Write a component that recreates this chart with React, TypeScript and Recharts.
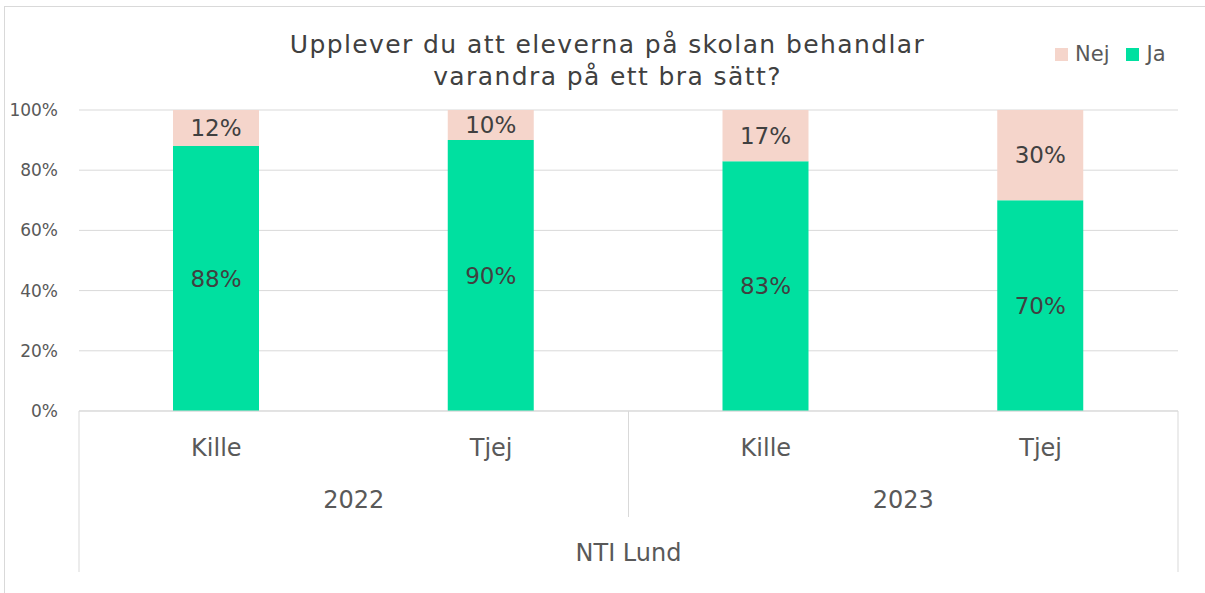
import { BarChart, Bar, XAxis, YAxis, CartesianGrid, LabelList } from "recharts";

const genders = ["Kille", "Tjej", "Kille", "Tjej"];
const years = ["2022", "2022", "2023", "2023"];
const ja = [88, 90, 83, 70];
const nej = [12, 10, 17, 30];
const yTicks = [0, 20, 40, 60, 80, 100];
const groupLabel = "NTI Lund";
const title = ["Upplever du att eleverna på skolan behandlar", "varandra på ett bra sätt?"];

const data = genders.map((g, i) => ({ gender: g, year: years[i], Ja: ja[i], Nej: nej[i] }));

const W = 1205;
const H = 593;
const M = { top: 110, right: 27, left: 0, bottom: 0 };
const Y_W = 79;
const X_H = 182;
const band = (W - M.left - M.right - Y_W) / data.length;
const FONT = "'DejaVu Sans', sans-serif";
const LINE = "#d9d9d9";
const TEXT = "#595959";
const GREEN = "#00e0a0";
const PINK = "#f5d5cb";

function CatTick(props: any) {
  const { x, y, index, payload } = props;
  const left = x - band / 2;
  const right = x + band / 2;
  return (
    <g>
      <text x={x} y={y + 45} textAnchor="middle" fill={TEXT} fontSize={24} fontFamily={FONT}>
        {payload.value}
      </text>
      {index % 2 === 0 && (
        <text x={right} y={y + 97} textAnchor="middle" fill={TEXT} fontSize={24} fontFamily={FONT}>
          {years[index]}
        </text>
      )}
      {index === 0 && (
        <>
          <line x1={left} y1={y} x2={left} y2={y + 161} stroke={LINE} />
          <text x={left + band * 2} y={y + 150} textAnchor="middle" fill={TEXT} fontSize={24} fontFamily={FONT}>
            {groupLabel}
          </text>
        </>
      )}
      {index === 2 && <line x1={left} y1={y} x2={left} y2={y + 106} stroke={LINE} />}
      {index === data.length - 1 && <line x1={right} y1={y} x2={right} y2={y + 161} stroke={LINE} />}
    </g>
  );
}

function LegendBox() {
  const items = [
    { name: "Nej", color: PINK },
    { name: "Ja", color: GREEN },
  ];
  return (
    <div
      style={{
        position: "absolute",
        left: 1055,
        top: 42,
        display: "flex",
        gap: 17,
        fontFamily: FONT,
        fontSize: 21,
        color: TEXT,
      }}
    >
      {items.map((it) => (
        <div key={it.name} style={{ display: "flex", alignItems: "center", gap: 7 }}>
          <span style={{ width: 13, height: 13, background: it.color, display: "inline-block" }} />
          {it.name}
        </div>
      ))}
    </div>
  );
}

export default function App() {
  return (
    <div style={{ position: "absolute", left: 0, top: 0, width: W, height: H, background: "#fff", overflow: "hidden" }}>
      <div
        style={{
          position: "absolute",
          left: 4,
          top: 6,
          width: W,
          height: H,
          borderLeft: "1.5px solid #d9d9d9",
          borderTop: "1.5px solid #d9d9d9",
        }}
      />
      <div
        style={{
          position: "absolute",
          left: 0,
          top: 29,
          width: 1215,
          textAlign: "center",
          fontFamily: FONT,
          fontSize: 25,
          letterSpacing: 1.4,
          lineHeight: "32px",
          color: "#404040",
        }}
      >
        {title[0]}
        <br />
        {title[1]}
      </div>
      <LegendBox />
      <BarChart width={W} height={H} data={data} margin={M} style={{ position: "absolute", left: 0, top: 0 }}>
        <CartesianGrid vertical={false} stroke={LINE} />
        <YAxis
          width={Y_W}
          domain={[0, 100]}
          ticks={yTicks}
          tickFormatter={(v: number) => `${v}%`}
          axisLine={false}
          tickLine={false}
          tickSize={0}
          tickMargin={21}
          tick={{ fill: TEXT, fontSize: 17, fontFamily: FONT }}
        />
        <XAxis
          dataKey="gender"
          height={X_H}
          interval={0}
          axisLine={{ stroke: LINE }}
          tickLine={false}
          tickSize={0}
          tickMargin={0}
          tick={<CatTick />}
        />
        <Bar dataKey="Ja" stackId="a" fill={GREEN} barSize={86} isAnimationActive={false}>
          <LabelList dataKey="Ja" position="center" formatter={(v: any) => `${v}%`} fill="#404040" fontSize={23} fontFamily={FONT} />
        </Bar>
        <Bar dataKey="Nej" stackId="a" fill={PINK} barSize={86} isAnimationActive={false}>
          <LabelList dataKey="Nej" position="center" formatter={(v: any) => `${v}%`} fill="#404040" fontSize={23} fontFamily={FONT} />
        </Bar>
      </BarChart>
    </div>
  );
}
